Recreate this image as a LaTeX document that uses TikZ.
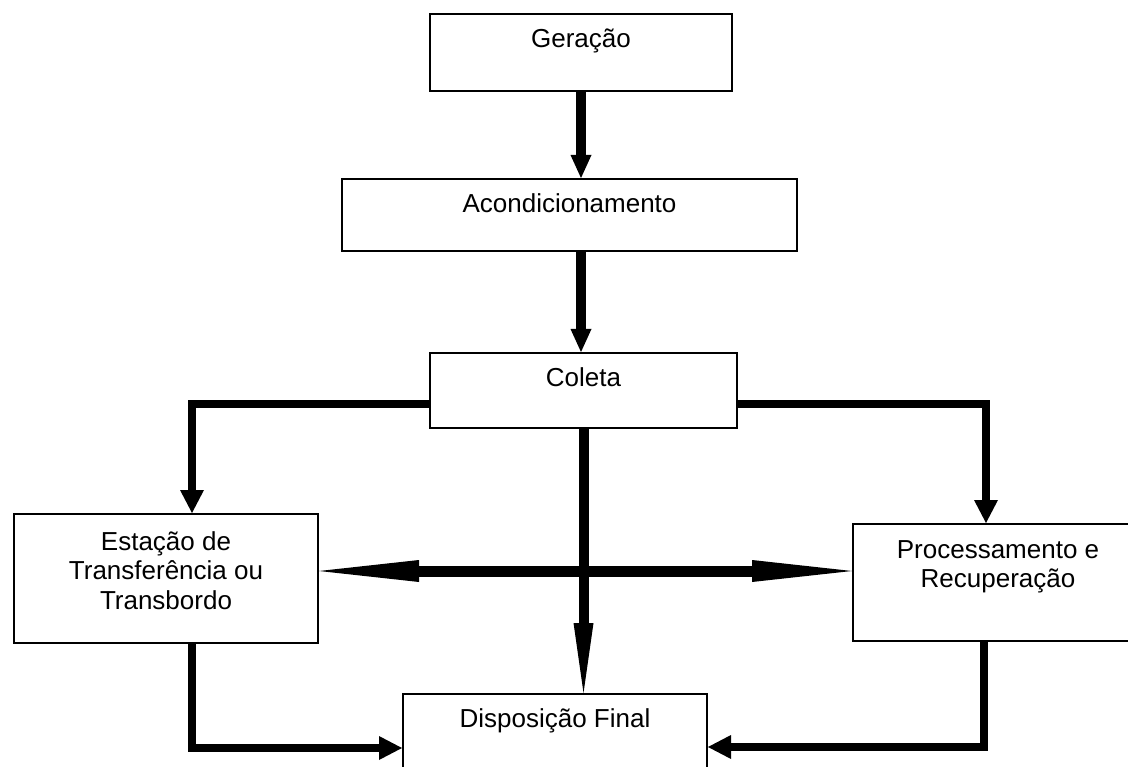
\documentclass[tikz,border=0pt]{standalone}
\usepackage{fontspec}
\setmainfont{Liberation Sans}
\usetikzlibrary{arrows.meta,calc}
\tikzset{
  box/.style={draw, line width=2pt, inner sep=0pt, anchor=north west},
  lbl/.style={anchor=base, align=center, inner sep=0pt, font=\fontsize{26}{29.5}\selectfont},
  vertarrow/.style={line width=10pt, -{Triangle[length=23pt,width=21pt,line width=0pt]}},
  longarrow/.style={line width=10pt, -{Triangle[length=70pt,width=20pt,line width=0pt]}},
  dblarrow/.style={line width=11pt, {Triangle[length=100pt,width=22pt,line width=0pt]}-{Triangle[length=100pt,width=22pt,line width=0pt]}},
  sidearrow/.style={line width=8pt, -{Triangle[length=23pt,width=24pt,line width=0pt]}},
}
\begin{document}
\begin{tikzpicture}[x=1pt,y=-1pt]
\clip (0,0) rectangle (1128,767);
\fill[white] (0,0) rectangle (1128,767);
% boxes
\node[box, minimum width=302pt, minimum height=77pt] (ger) at (429,13) {};
\node[box, minimum width=455pt, minimum height=72pt] (acd) at (341,178) {};
\node[box, minimum width=307pt, minimum height=75pt] (col) at (429,352) {};
\node[box, minimum width=304pt, minimum height=129pt] (est) at (13,513) {};
\node[box, minimum width=290pt, minimum height=117pt] (proc) at (852,523) {};
\node[box, minimum width=304pt, minimum height=110pt] (disp) at (402,693) {};
% labels (anchor base = baseline of the last line)
\node[lbl] (tger) at ($(ger.north)+(0,35)$) {Geração};
\node[lbl] (tacd) at ($(acd.north)+(0,35)$) {Acondicionamento};
\node[lbl] (tcol) at ($(col.north)+(0,35)$) {Coleta};
\node[lbl] (test) at ($(est.north)+(0,96)$) {Estação de\\Transferência ou\\Transbordo};
\node[lbl] (tproc) at ($(proc.north)+(0,64.5)$) {Processamento e\\Recuperação};
\node[lbl] (tdisp) at ($(disp.north)+(0,34)$) {Disposição Final};
% connectors
\draw[vertarrow] (ger.south) -- (ger.south |- acd.north);
\draw[vertarrow] (ger.south |- acd.south) -- (ger.south |- col.north);
\coordinate (h) at (0,571);
\draw[dblarrow] (est.east |- h) -- (proc.west |- h);
\draw[longarrow] (col.south) -- (col.south |- disp.north);
\coordinate (lc) at (192,404);
\coordinate (rc) at (986,404);
\draw[sidearrow] (col.west |- lc) -- (lc) -- (lc |- est.north);
\draw[sidearrow] (col.east |- rc) -- (rc) -- (rc |- proc.north);
\coordinate (lb) at (192,748);
\coordinate (rb) at (984,747);
\draw[sidearrow] (lb |- est.south) -- (lb) -- (lb -| disp.west);
\draw[sidearrow] (rb |- proc.south) -- (rb) -- (rb -| disp.east);
\end{tikzpicture}
\end{document}
